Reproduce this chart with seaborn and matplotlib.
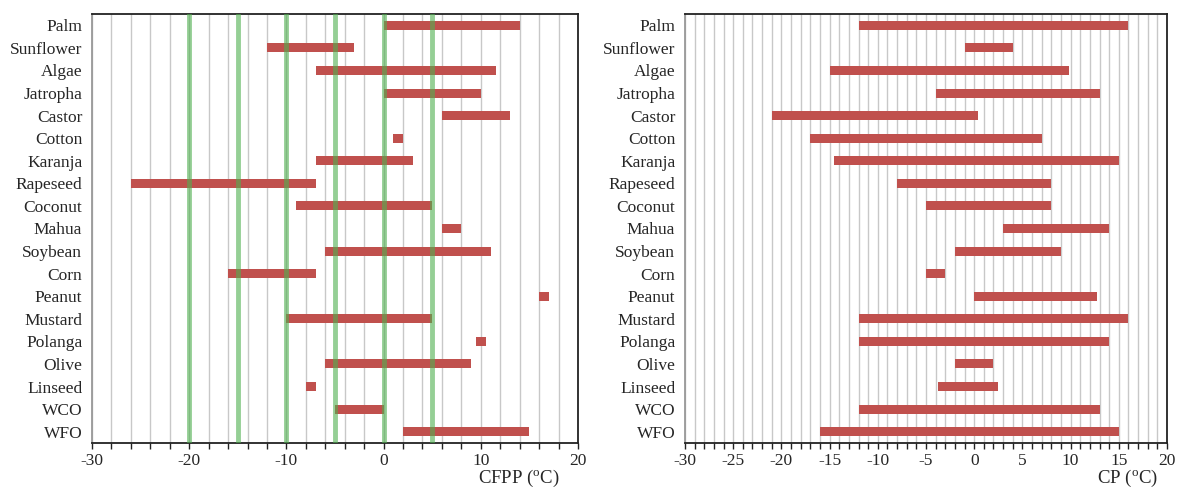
import numpy as np
import pandas as pd
import matplotlib
matplotlib.use("Agg")
import matplotlib.pyplot as plt
import seaborn as sns
from matplotlib.ticker import MultipleLocator

# Feedstock oils, top to bottom
oils = ["Palm", "Sunflower", "Algae", "Jatropha", "Castor", "Cotton", "Karanja",
        "Rapeseed", "Coconut", "Mahua", "Soybean", "Corn", "Peanut", "Mustard",
        "Polanga", "Olive", "Linseed", "WCO", "WFO"]

# Cold filter plugging point range (°C)
cfpp_low = [0, -12, -7, 0, 6, 1, -7, -26, -9, 6, -6, -16, 16, -10, 9.5, -6, -8, -5, 2]
cfpp_high = [14, -3, 11.6, 10, 13, 2, 3, -7, 5, 8, 11, -7, 17, 5, 10.5, 9, -7, 0, 15]

# Cloud point range (°C)
cp_low = [-12, -1, -15, -4, -21, -17, -14.5, -8, -5, 3, -2, -5, 0, -12, -12, -2, -3.8, -12, -16]
cp_high = [16, 4, 9.8, 13, 0.4, 7, 15, 8, 8, 14, 9, -3, 12.7, 16, 14, 2, 2.5, 13, 15]

# Reference temperatures marked on the CFPP panel
cfpp_marks = [-20, -15, -10, -5, 0, 5]

BAR_RED = "#c0504d"
MARK_GREEN = "#4fb04f"

sns.set_theme(style="white")
plt.rcParams["font.family"] = ["Liberation Serif", "DejaVu Serif"]
plt.rcParams["mathtext.fontset"] = "custom"
plt.rcParams["mathtext.rm"] = "Liberation Serif"
plt.rcParams["mathtext.it"] = "Liberation Serif:italic"
plt.rcParams["axes.unicode_minus"] = False

W, H = 1177, 487
fig = plt.figure(figsize=(W / 100, H / 100), dpi=100)
bottom = (H - 443) / H
height = (443 - 14) / H
ax1 = fig.add_axes([92 / W, bottom, (578 - 92) / W, height])
ax2 = fig.add_axes([685 / W, bottom, (1167 - 685) / W, height])


def range_panel(ax, low, high, grid_step, label_step, xlabel):
    low = np.asarray(low, dtype=float)
    high = np.asarray(high, dtype=float)
    df = pd.DataFrame({"oil": oils, "span": high - low})
    sns.barplot(data=df, y="oil", x="span", order=oils, orient="y",
                left=low, color=BAR_RED, saturation=1, width=0.4,
                errorbar=None, ax=ax, zorder=2, linewidth=0)
    ax.set_xlim(-30, 20)
    ax.set_ylim(18.5, -0.5)
    ax.xaxis.set_major_locator(MultipleLocator(label_step))
    ax.xaxis.set_minor_locator(MultipleLocator(grid_step))
    ax.grid(which="both", axis="x", color="#c8c8c8", linewidth=1.0, zorder=0)
    ax.set_axisbelow(True)
    ax.tick_params(axis="x", which="both", direction="out", length=4.5,
                   width=1, color="#222222", bottom=True, labelsize=12.5, pad=3)
    ax.tick_params(axis="y", length=0, labelsize=12.5, pad=7)
    for side in ["top", "right", "bottom"]:
        ax.spines[side].set_color("#222222")
        ax.spines[side].set_linewidth(1.3)
    ax.spines["left"].set_color("#999999")
    ax.spines["left"].set_linewidth(1.3)
    ax.set_ylabel("")
    ax.set_xlabel(xlabel, fontsize=13.5, ha="right", va="center", labelpad=0)
    return ax


range_panel(ax1, cfpp_low, cfpp_high, 2, 10, r"CFPP ($^{\rm o}$C)")
range_panel(ax2, cp_low, cp_high, 1, 5, r"CP ($^{\rm o}$C)")
ax1.xaxis.set_label_coords(0.962, -0.082)
ax2.xaxis.set_label_coords(0.982, -0.082)

for t in cfpp_marks:
    ax1.axvline(t, color=MARK_GREEN, alpha=0.6, linewidth=3.5, zorder=3)

fig.savefig("out.png", dpi=100, facecolor="white")
